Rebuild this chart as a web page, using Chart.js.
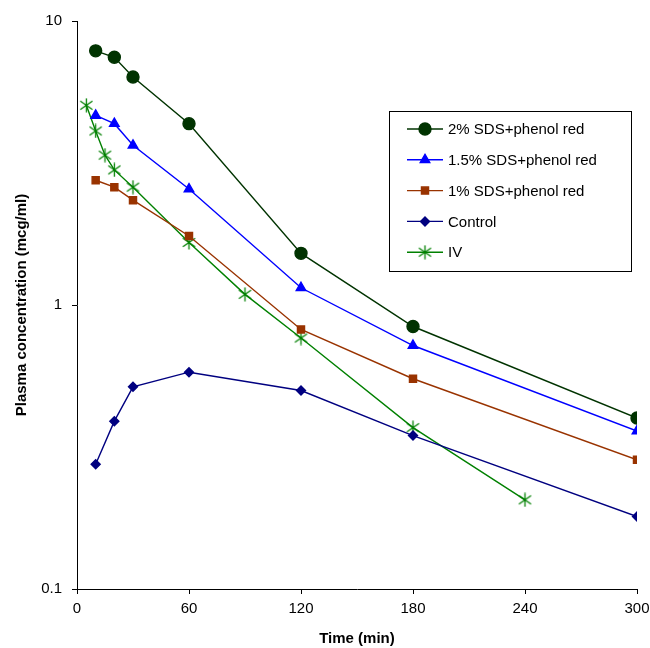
<!DOCTYPE html>
<html>
<head>
<meta charset="utf-8">
<script src="https://cdn.jsdelivr.net/npm/chart.js@4/dist/chart.umd.min.js"></script>
<style>
  html, body { margin: 0; padding: 0; background: #fff; }
  #wrap { width: 650px; height: 648px; position: relative; }
</style>
</head>
<body>
<div id="wrap"><canvas id="pkChart"></canvas></div>
<script>
// 数据
const timesSDS = [10, 20, 30, 60, 120, 180, 300];
const sds2 = [7.85, 7.45, 6.35, 4.35, 1.52, 0.84, 0.40];
const sds15 = [4.65, 4.35, 3.65, 2.56, 1.15, 0.72, 0.36];
const sds1 = [2.75, 2.6, 2.34, 1.75, 0.82, 0.55, 0.285];
const control = [0.275, 0.39, 0.515, 0.58, 0.50, 0.347, 0.18];
const timesIV = [5, 10, 15, 20, 30, 60, 90, 120, 180, 240];
const iv = [5.05, 4.1, 3.37, 2.99, 2.6, 1.66, 1.09, 0.765, 0.37, 0.206];

const xTicks = [0, 60, 120, 180, 240, 300];
const yTicks = [0.1, 1, 10];
const seriesLabels = ['2% SDS+phenol red', '1.5% SDS+phenol red', '1% SDS+phenol red', 'Control', 'IV'];

Chart.defaults.font.family = 'Arial, "Liberation Sans", sans-serif';
Chart.defaults.color = '#000';

// Excel 风格星形标记 (X + 竖线)
function makeStar(color, size) {
    const c = document.createElement('canvas');
    c.width = size; c.height = size;
    const g = c.getContext('2d');
    g.strokeStyle = color;
    g.lineWidth = 1.3;
    const m = size / 2, r = size / 2 - 0.5;
    g.beginPath();
    g.moveTo(m, m - r); g.lineTo(m, m + r);
    g.moveTo(m - r * 0.87, m - r * 0.6); g.lineTo(m + r * 0.87, m + r * 0.6);
    g.moveTo(m - r * 0.87, m + r * 0.6); g.lineTo(m + r * 0.87, m - r * 0.6);
    g.stroke();
    return c;
}
const starIcon = makeStar('#008000', 15);

function pts(xs, ys) {
    return xs.map((x, i) => ({ x: x, y: ys[i] }));
}

function makeSet(label, xs, ys, color, style, radius) {
    return {
        label: label,
        data: pts(xs, ys),
        borderColor: color,
        backgroundColor: color,
        pointBackgroundColor: color,
        pointBorderColor: color,
        pointStyle: style,
        pointRadius: radius,
        pointHoverRadius: radius,
        borderWidth: 1.4,
        tension: 0,
        fill: false
    };
}

// 图内图例
const boxLegend = {
    id: 'boxLegend',
    afterDraw(chart) {
        const ctx = chart.ctx;
        const left = 389, top = 111, w = 242, h = 160;
        ctx.save();
        ctx.fillStyle = '#fff';
        ctx.fillRect(left, top, w, h);
        ctx.strokeStyle = '#000';
        ctx.lineWidth = 1;
        ctx.strokeRect(left + 0.5, top + 0.5, w, h);
        ctx.font = '15px Arial, "Liberation Sans", sans-serif';
        ctx.textBaseline = 'middle';
        chart.data.datasets.forEach((ds, i) => {
            const y = 129 + i * 30.8;
            ctx.strokeStyle = ds.borderColor;
            ctx.lineWidth = 1.4;
            ctx.beginPath();
            ctx.moveTo(407, y);
            ctx.lineTo(443, y);
            ctx.stroke();
            ctx.fillStyle = ds.pointBackgroundColor;
            ctx.strokeStyle = ds.pointBorderColor;
            Chart.helpers.drawPoint(ctx, {
                pointStyle: ds.pointStyle,
                radius: ds.pointRadius,
                borderWidth: 1,
                rotation: 0
            }, 425, y);
            ctx.fillStyle = '#000';
            ctx.fillText(ds.label, 448, y + 1);
        });
        ctx.restore();
    }
};

new Chart(document.getElementById('pkChart'), {
    type: 'line',
    data: {
        datasets: [
            makeSet(seriesLabels[0], timesSDS, sds2, '#003300', 'circle', 6),
            makeSet(seriesLabels[1], timesSDS, sds15, '#0000FF', 'triangle', 5.5),
            makeSet(seriesLabels[2], timesSDS, sds1, '#993300', 'rect', 5),
            makeSet(seriesLabels[3], timesSDS, control, '#000080', 'rectRot', 4.5),
            makeSet(seriesLabels[4], timesIV, iv, '#008000', starIcon, 7)
        ]
    },
    options: {
        responsive: true,
        maintainAspectRatio: false,
        animation: false,
        layout: { padding: { left: 0, right: 13, top: 21, bottom: 0 } },
        plugins: {
            legend: { display: false },
            tooltip: { enabled: false }
        },
        scales: {
            x: {
                type: 'linear',
                min: 0,
                max: 300,
                afterBuildTicks: (s) => { s.ticks = xTicks.map(v => ({ value: v })); },
                afterFit: (s) => { s.height = 59; s.paddingLeft = 0; s.paddingRight = 0; },
                ticks: { font: { size: 15 }, color: '#000', padding: 6, maxRotation: 0 },
                grid: { drawOnChartArea: false, drawTicks: true, tickLength: 5, color: '#000' },
                border: { display: true, color: '#000', width: 1 },
                title: {
                    display: true,
                    text: 'Time (min)',
                    font: { size: 15, weight: 'bold' },
                    color: '#000',
                    padding: { top: 3, bottom: 0 }
                }
            },
            y: {
                type: 'logarithmic',
                min: 0.1,
                max: 10,
                afterBuildTicks: (s) => { s.ticks = yTicks.map(v => ({ value: v })); },
                afterFit: (s) => { s.width = 77; s.paddingTop = 0; s.paddingBottom = 0; },
                ticks: {
                    font: { size: 15 },
                    color: '#000',
                    padding: 10,
                    callback: (v) => String(v)
                },
                grid: { drawOnChartArea: false, drawTicks: true, tickLength: 5, color: '#000' },
                border: { display: true, color: '#000', width: 1 },
                title: {
                    display: true,
                    text: 'Plasma concentration (mcg/ml)',
                    font: { size: 15, weight: 'bold' },
                    color: '#000',
                    padding: { top: 13, bottom: 4 }
                }
            }
        }
    },
    plugins: [boxLegend]
});
</script>
</body>
</html>
